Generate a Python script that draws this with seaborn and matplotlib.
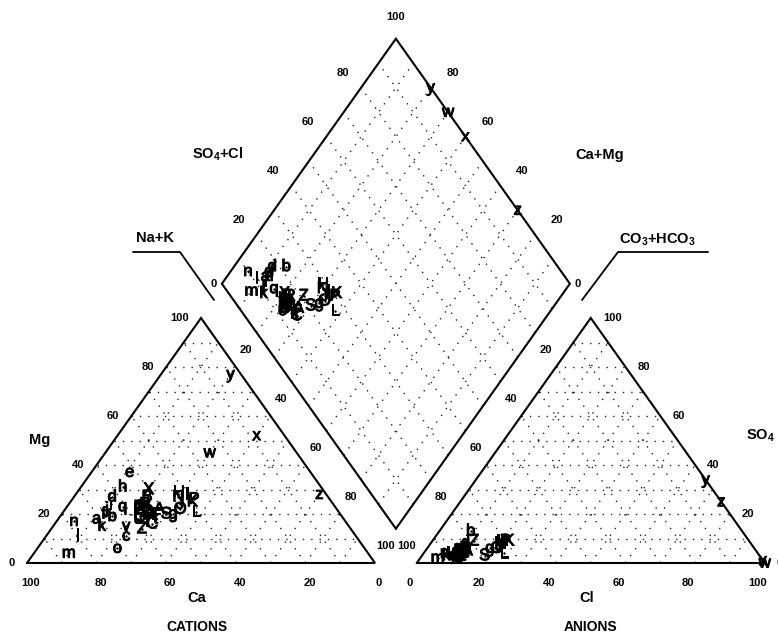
import numpy as np
import pandas as pd
import matplotlib
matplotlib.use("Agg")
import matplotlib.pyplot as plt
import matplotlib.patheffects as pe
import seaborn as sns

# ---------------- data (percent, meq) ----------------
labels = ["a", "b", "c", "d", "e", "f", "g", "h", "i", "j", "k", "l", "m", "n",
          "o", "p", "q", "r", "s", "t", "u", "v", "w", "x", "y", "z",
          "A", "B", "C", "H", "I", "J", "K", "L", "S", "X", "Z",
          "D", "E", "F", "G", "M", "N", "O", "P", "R", "T"]
ca   = [71, 66, 66, 62, 52, 68, 48, 57, 64, 66, 71, 80, 86, 78,
        71, 56, 61, 56, 54, 54, 59, 64, 25, 8, 3, 2,
        51, 52, 56, 42, 40, 44, 40, 41, 50, 50, 60,
        55, 57, 53, 58, 55, 43, 45, 39, 54, 57]
mg   = [18, 19, 11, 27, 37, 20, 20, 31, 24, 22, 15, 11, 4, 17,
        6, 24, 23, 20, 22, 18, 18, 15, 45, 52, 77, 28,
        22, 27, 16, 29, 28, 24, 25, 21, 20, 30, 14,
        21, 22, 20, 19, 23, 27, 22, 26, 24, 17]
na_k = [11, 15, 23, 11, 11, 12, 32, 12, 12, 12, 14, 9, 10, 5,
        23, 20, 16, 24, 24, 28, 23, 21, 30, 40, 20, 70,
        27, 21, 28, 29, 32, 32, 35, 38, 30, 20, 26,
        24, 21, 27, 23, 22, 30, 33, 35, 22, 26]
hco3 = [86, 78, 86, 82, 84, 83, 76, 85, 87, 88, 90, 89, 93, 90,
        88, 85, 86, 86, 84, 85, 87, 86, 0, 0, 0, 0,
        83, 84, 85, 71, 71, 73, 69, 73, 79, 84, 79,
        85, 86, 84, 87, 85, 72, 74, 70, 83, 86]
so4  = [5, 13, 3, 8, 6, 7, 6, 5, 4, 3, 3, 4, 2, 4,
        3, 5, 4, 3, 4, 3, 2, 3, 0, 1, 34, 25,
        5, 5, 4, 9, 8, 7, 9, 4, 3, 5, 9,
        4, 3, 4, 3, 5, 8, 6, 9, 6, 4]
cl   = [9, 9, 11, 10, 10, 10, 18, 10, 9, 9, 7, 7, 5, 6,
        9, 10, 10, 11, 12, 12, 11, 11, 100, 99, 66, 75,
        12, 11, 11, 20, 21, 20, 22, 23, 18, 11, 12,
        11, 11, 12, 10, 10, 20, 20, 21, 11, 10]

tick_values = [0, 20, 40, 60, 80, 100]

# ---------------- style ----------------
sns.set_theme(style="white")
plt.rcParams["font.family"] = ["Liberation Sans", "DejaVu Sans"]
plt.rcParams["mathtext.fontset"] = "custom"
plt.rcParams["mathtext.rm"] = "Liberation Sans:bold"
plt.rcParams["mathtext.it"] = "Liberation Sans:bold"
plt.rcParams["mathtext.bf"] = "Liberation Sans:bold"

fig = plt.figure(figsize=(7.78, 6.35), dpi=100)
ax = fig.add_axes([0, 0, 1, 1])
PX, PY = 348.0, 245.0          # pixel size of one triangle side / height
X0, Y0 = 27.0, 563.0           # pixel of cation triangle bottom-left corner

G = 1.12                  # x offset of anion triangle
DBX, DBY = 1.06, 0.14     # bottom vertex of diamond


def pix(px, py):
    return (px - X0) / PX, (Y0 - py) / PY


def cat_xy(c, m):
    return 1 - c - m / 2.0, m


def an_xy(c, s):
    return G + c + s / 2.0, s


def dia_xy(p, q):
    return DBX - 0.5 * p + 0.5 * q, DBY + p + q


# ---------------- frames ----------------
K = dict(color="black", lw=1.5, solid_joinstyle="miter", zorder=3)
tri_c = [cat_xy(1, 0), cat_xy(0, 0), cat_xy(0, 1), cat_xy(1, 0)]
tri_a = [an_xy(0, 0), an_xy(1, 0), an_xy(0, 1), an_xy(0, 0)]
dia = [dia_xy(0, 0), dia_xy(1, 0), dia_xy(1, 1), dia_xy(0, 1), dia_xy(0, 0)]
for poly in (tri_c, tri_a, dia):
    xs, ys = zip(*poly)
    ax.plot(xs, ys, **K)

# ---------------- grids ----------------
GK = dict(color="#222222", lw=1.0, linestyle=(0, (1, 5)), zorder=1)
for k in range(1, 10):
    f = k / 10.0
    segs = [
        (cat_xy(1 - f, f), cat_xy(0, f)),
        (cat_xy(f, 0), cat_xy(f, 1 - f)),
        (cat_xy(1 - f, 0), cat_xy(0, 1 - f)),
        (an_xy(0, f), an_xy(1 - f, f)),
        (an_xy(f, 0), an_xy(f, 1 - f)),
        (an_xy(1 - f, 0), an_xy(0, 1 - f)),
        (dia_xy(f, 0), dia_xy(f, 1)),
        (dia_xy(0, f), dia_xy(1, f)),
    ]
    for a, b in segs:
        ax.plot([a[0], b[0]], [a[1], b[1]], **GK)

# ---------------- tick labels ----------------
TK = dict(fontsize=8, fontweight="bold", color="black", va="center", zorder=4)


def lab(xy, s, dx=0, dy=0, ha="center"):
    ax.text(xy[0] + dx / PX, xy[1] - dy / PY, s, ha=ha, **TK)


for v in tick_values:
    f = v / 100.0
    lab(cat_xy(f, 0), str(v), 4, 20)                 # Ca
    lab(cat_xy(1 - f, f), str(v), -12, 0, "right")   # Mg
    lab(an_xy(f, 0), str(v), -7, 20)                 # Cl
    lab(an_xy(1 - f, f), str(v), 12, 0, "left")      # SO4
    if v > 0:
        a = cat_xy(0, 1 - f)
        b = dia_xy(1 - f, 0)
        lab(((a[0] + b[0]) / 2, (a[1] + b[1]) / 2), str(v))   # Na+K
        a = an_xy(0, 1 - f)
        b = dia_xy(0, 1 - f)
        lab(((a[0] + b[0]) / 2, (a[1] + b[1]) / 2), str(v))   # CO3+HCO3
    if v == 0:
        lab(dia_xy(1, f), str(v), -5, 0, "right")
        lab(dia_xy(f, 1), str(v), 5, 0, "left")
    elif v == 100:
        lab(dia_xy(1, f), str(v), 0, -22)
    else:
        lab(dia_xy(1, f), str(v), -18, -15)     # SO4+Cl
        lab(dia_xy(f, 1), str(v), 22, -15)      # Ca+Mg

# ---------------- axis titles ----------------
HK = dict(fontsize=10.5, fontweight="bold", color="black", ha="center", va="center", zorder=4)
ax.text(*pix(40, 440), "Mg", **HK)
ax.text(*pix(197, 598), "Ca", **HK)
ax.text(*pix(587, 598), "Cl", **HK)
ax.text(*pix(197, 627), "CATIONS", **dict(HK, fontsize=10))
ax.text(*pix(590, 627), "ANIONS", **dict(HK, fontsize=10))
ax.text(*pix(218, 154), r"SO$_4$+Cl", **HK)
ax.text(*pix(600, 155), "Ca+Mg", **HK)
ax.text(*pix(155, 238), "Na+K", **HK)
ax.text(*pix(657, 240), r"CO$_3$+HCO$_3$", **HK)
ax.text(*pix(760, 436), r"SO$_4$", **HK)

# leader lines
for pts in ([(133, 252), (180, 252), (214, 300)], [(708, 252), (618, 252), (582, 300)]):
    xs, ys = zip(*[pix(*p) for p in pts])
    ax.plot(xs, ys, color="black", lw=1.3, zorder=3)

# ---------------- sample points ----------------
rows = []
for i, lb in enumerate(labels):
    tc = ca[i] + mg[i] + na_k[i]
    ta = hco3[i] + so4[i] + cl[i]
    c, m = ca[i] / tc, mg[i] / tc
    chl, s = cl[i] / ta, so4[i] / ta
    p, q = (ca[i] + mg[i]) / tc, (so4[i] + cl[i]) / ta
    for panel, (x, y) in (("cation", cat_xy(c, m)), ("anion", an_xy(chl, s)),
                          ("diamond", dia_xy(p, q))):
        rows.append(dict(label=lb, panel=panel, x=x, y=y))
df = pd.DataFrame(rows)

sns.scatterplot(data=df, x="x", y="y", ax=ax, s=3, color="black",
                linewidth=0, legend=False, zorder=5)
stroke = [pe.withStroke(linewidth=0.7, foreground="black")]
for _, r in df.iterrows():
    ax.text(r.x, r.y, r.label, fontsize=12, color="black", ha="center",
            va="center", zorder=6, path_effects=stroke)

ax.set_xlim(-X0 / PX, (778 - X0) / PX)
ax.set_ylim((Y0 - 635) / PY, Y0 / PY)
ax.axis("off")
fig.savefig("out.png", dpi=100, facecolor="white")
